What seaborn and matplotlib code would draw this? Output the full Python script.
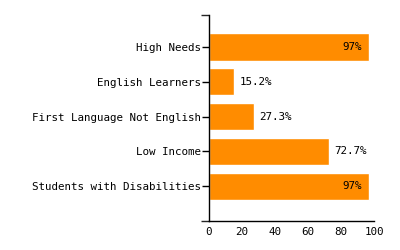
import matplotlib
matplotlib.use("Agg")
import matplotlib.pyplot as plt
import seaborn as sns
import pandas as pd

categories = ["High Needs", "English Learners", "First Language Not English",
              "Low Income", "Students with Disabilities"]
values = [97, 15.2, 27.3, 72.7, 97]
labels = ["97%", "15.2%", "27.3%", "72.7%", "97%"]

sns.set_style("white")
plt.rcParams['font.family'] = ['DejaVu Sans Mono']
FS = 7.8

df = pd.DataFrame({"cat": categories, "val": values})
fig = plt.figure(figsize=(4, 2.5), dpi=100)
ax = fig.add_axes([0.5225, 0.116, 0.4125, 0.824])
sns.barplot(data=df, x="val", y="cat", orient="h", color="#FF8C00",
            saturation=1, width=0.78, ax=ax)

ax.set_xlim(0, 100)
ax.set_ylim(5.0, -0.92)
ax.set_xlabel("")
ax.set_ylabel("")
for s in ["top", "right"]:
    ax.spines[s].set_visible(False)
for s in ["left", "bottom"]:
    ax.spines[s].set_color("black")
    ax.spines[s].set_linewidth(1)

ax.set_xticks([0, 20, 40, 60, 80, 100])
ax.tick_params(axis="x", length=0, pad=4, labelsize=FS, colors="black")
ax.tick_params(axis="y", length=5, width=1, pad=1, labelsize=FS, colors="black", left=True)
ax.set_yticks([5.0, -0.92], minor=True)
ax.tick_params(axis="y", which="minor", length=6, width=1, left=True)

for i, (v, t) in enumerate(zip(values, labels)):
    if v > 90:
        ax.annotate(t, (v, i), xytext=(-5, 0), textcoords="offset points",
                    ha="right", va="center", fontsize=FS, color="black")
    else:
        ax.annotate(t, (v, i), xytext=(4, 0), textcoords="offset points",
                    ha="left", va="center", fontsize=FS, color="black")

fig.savefig("out.png", dpi=100)
